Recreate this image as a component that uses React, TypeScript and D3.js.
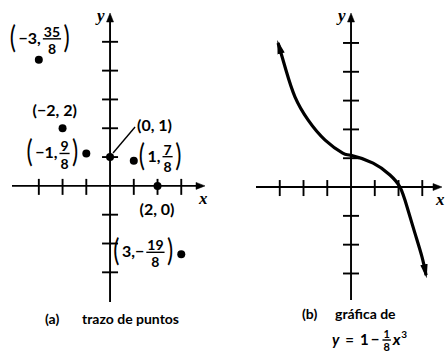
import React from "react";
import * as d3 from "d3";

const W = 446;
const H = 358;
const FONT = "Lato, 'Open Sans', sans-serif";

// (a) points plotted
const pointX = [-3, -2, -1, 0, 1, 2, 3];
const pointY = [4.375, 2, 1.125, 1, 0.875, 0, -2.375];
const labelText = ["−3,", "−2, 2", "−1,", "0, 1", "1,", "2, 0", "3,−"];
const labelNum = ["35", "", "9", "", "7", "", "19"];
const labelDen = ["8", "", "8", "", "8", "", "8"];

// (b) curve
const curveX = [-3.07, -2.74, -2.36, -1.81, -1.09, -0.35, 0, 0.93, 1.64, 2.06, 2.36, 2.69, 2.99, 3.16];
const curveY = [5.0, 4.06, 3.13, 2.33, 1.63, 1.18, 1.1, 0.83, 0.42, 0, -0.69, -1.6, -2.43, -3.06];

const tickX = [-3, -2, -1, 1, 2, 3];
const tickY = [-3, -2, -1, 1, 2, 3, 4, 5];

// where each label sits relative to its dot (px)
const labelPlace = [
  { dx: -29, dy: -21, anchor: "start" },
  { dx: -30, dy: -17, anchor: "start" },
  { dx: -8, dy: 0, anchor: "end" },
  { dx: 27, dy: -31, anchor: "start" },
  { dx: 5, dy: -4, anchor: "start" },
  { dx: -18, dy: 24, anchor: "start" },
  { dx: -8, dy: -2, anchor: "end" },
];

let ctx: CanvasRenderingContext2D | null = null;
function tw(s: string, size: number, italic = false, weight = 700) {
  if (!ctx) ctx = document.createElement("canvas").getContext("2d");
  ctx!.font = `${italic ? "italic " : ""}${weight} ${size}px Lato`;
  return ctx!.measureText(s).width;
}

type Part = { k: "t" | "big" | "frac" | "sup"; s?: string; n?: string; d?: string; size?: number; it?: boolean; gap?: number };

function MathLabel({ x, mid, parts, anchor = "start", size = 16 }: { x: number; mid: number; parts: Part[]; anchor?: string; size?: number }) {
  const bigFs = 31;
  const sx = 0.75;
  const widths = parts.map((p) => {
    if (p.k === "t") return tw(p.s!, p.size || size, p.it);
    if (p.k === "big") return tw(p.s!, bigFs, false, 400) * sx;
    if (p.k === "sup") return tw(p.s!, p.size || 10);
    const fs = p.size || 14;
    return Math.max(tw(p.n!, fs), tw(p.d!, fs)) + 2;
  });
  const gaps = parts.map((p, i) => (p.gap !== undefined ? p.gap : p.k === "big" || (i > 0 && parts[i - 1].k === "big") ? 2.5 : 2));
  const total = widths.reduce((a, b) => a + b, 0) + gaps.slice(1).reduce((a, b) => a + b, 0);
  let cx = anchor === "end" ? x - total : x;
  const els: any[] = [];
  parts.forEach((p, i) => {
    if (i > 0) cx += gaps[i];
    const w = widths[i];
    if (p.k === "t") {
      els.push(
        <text key={i} x={cx} y={mid + 5} fontSize={p.size || size} fontStyle={p.it ? "italic" : "normal"}>
          {p.s}
        </text>
      );
    } else if (p.k === "big") {
      els.push(
        <text key={i} x={0} y={mid + 9} fontSize={bigFs} fontWeight={400} transform={`translate(${cx},0) scale(${sx},1)`}>
          {p.s}
        </text>
      );
    } else if (p.k === "sup") {
      els.push(
        <text key={i} x={cx} y={mid - 2} fontSize={p.size || 10}>
          {p.s}
        </text>
      );
    } else {
      const fs = p.size || 14;
      const nb = mid - 2;
      els.push(
        <g key={i}>
          <text x={cx + w / 2} y={nb} fontSize={fs} textAnchor="middle">
            {p.n}
          </text>
          <line x1={cx} x2={cx + w} y1={mid} y2={mid} stroke="#000" strokeWidth={1.4} />
          <text x={cx + w / 2} y={nb + fs * 1.22} fontSize={fs} textAnchor="middle">
            {p.d}
          </text>
        </g>
      );
    }
    cx += w;
  });
  return <g>{els}</g>;
}

function Axes({ xs, ys }: { xs: d3.ScaleLinear<number, number>; ys: d3.ScaleLinear<number, number> }) {
  const [x0, x1] = xs.range();
  const [y0, y1] = ys.range();
  const ox = xs(0);
  const oy = ys(0);
  return (
    <g stroke="#000" strokeWidth={1.9}>
      <line x1={x0} x2={x1 - 4} y1={oy} y2={oy} />
      <line x1={ox} x2={ox} y1={y0} y2={y1 + 4} />
      <polygon points={`${x1},${oy} ${x1 - 9},${oy - 3.5} ${x1 - 9},${oy + 3.5}`} fill="#000" strokeWidth={0.5} />
      <polygon points={`${ox},${y1} ${ox - 3.5},${y1 + 9} ${ox + 3.5},${y1 + 9}`} fill="#000" strokeWidth={0.5} />
      {tickX.map((t) => (
        <line key={"x" + t} x1={xs(t)} x2={xs(t)} y1={oy - 7} y2={oy + 9} />
      ))}
      {tickY.map((t) => (
        <line key={"y" + t} x1={ox - 8} x2={ox + 8} y1={ys(t)} y2={ys(t)} />
      ))}
      <text x={x1 - 6} y={oy + 18} stroke="none" fontFamily="'Liberation Serif', serif" fontStyle="italic" fontWeight={700} fontSize={17}>
        x
      </text>
      <text x={ox - 13} y={y1 + 8} stroke="none" fontFamily="'Liberation Serif', serif" fontStyle="italic" fontWeight={700} fontSize={17}>
        y
      </text>
    </g>
  );
}

export default function App() {
  const xa = d3.scaleLinear().domain([-4.13, 4]).range([12, 205]);
  const ya = d3.scaleLinear().domain([-4.03, 6]).range([302, 13]);
  const xb = d3.scaleLinear().domain([-4, 3.83]).range([256, 442]);
  const yb = d3.scaleLinear().domain([-3.92, 6.04]).range([300, 13]);

  const curve = d3
    .line<number>()
    .x((_, i) => xb(curveX[i]))
    .y((_, i) => yb(curveY[i]))
    .curve(d3.curveNatural);

  return (
    <svg width={W} height={H} style={{ position: "absolute", left: 0, top: 0, background: "#fff" }} fontFamily={FONT} fontWeight={700}>
      <defs>
        <marker id="arr" viewBox="0 0 14 8" refX={11} refY={4} markerWidth={14} markerHeight={8} markerUnits="userSpaceOnUse" orient="auto-start-reverse">
          <path d="M0,0.3 L14,4 L0,7.7 Z" fill="#000" />
        </marker>
      </defs>

      {/* (a) */}
      <Axes xs={xa} ys={ya} />
      <line x1={xa(0) + 3} y1={ya(1) - 4} x2={xa(0) + 25} y2={ya(1) - 30} stroke="#000" strokeWidth={1.4} />
      {pointX.map((px, i) => (
        <circle key={i} cx={xa(px)} cy={ya(pointY[i])} r={4} fill="#000" />
      ))}
      {pointX.map((px, i) => {
        const pl = labelPlace[i];
        const parts: Part[] = labelNum[i]
          ? [
              { k: "big", s: "(" },
              { k: "t", s: labelText[i] },
              { k: "frac", n: labelNum[i], d: labelDen[i] },
              { k: "big", s: ")" },
            ]
          : [{ k: "t", s: "(" + labelText[i] + ")" }];
        return <MathLabel key={i} x={xa(px) + pl.dx} mid={ya(pointY[i]) + pl.dy} parts={parts} anchor={pl.anchor} />;
      })}
      <text x={45} y={324} fontSize={14}>(a)</text>
      <text x={82} y={324} fontSize={14}>trazo de puntos</text>

      {/* (b) */}
      <Axes xs={xb} ys={yb} />
      <path d={curve(curveX) || ""} fill="none" stroke="#000" strokeWidth={3.2} markerStart="url(#arr)" markerEnd="url(#arr)" />
      <text x={302} y={319} fontSize={14}>(b)</text>
      <text x={335} y={319} fontSize={14}>gráfica de</text>
      <MathLabel
        x={332}
        mid={340}
        size={15}
        parts={[
          { k: "t", s: "y", it: true },
          { k: "t", s: "=", gap: 6 },
          { k: "t", s: "1", gap: 6 },
          { k: "t", s: "−", gap: 2 },
          { k: "frac", n: "1", d: "8", size: 11, gap: 3 },
          { k: "t", s: "x", it: true, size: 16, gap: 2 },
          { k: "sup", s: "3", size: 10, gap: 0.5 },
        ]}
      />
    </svg>
  );
}
